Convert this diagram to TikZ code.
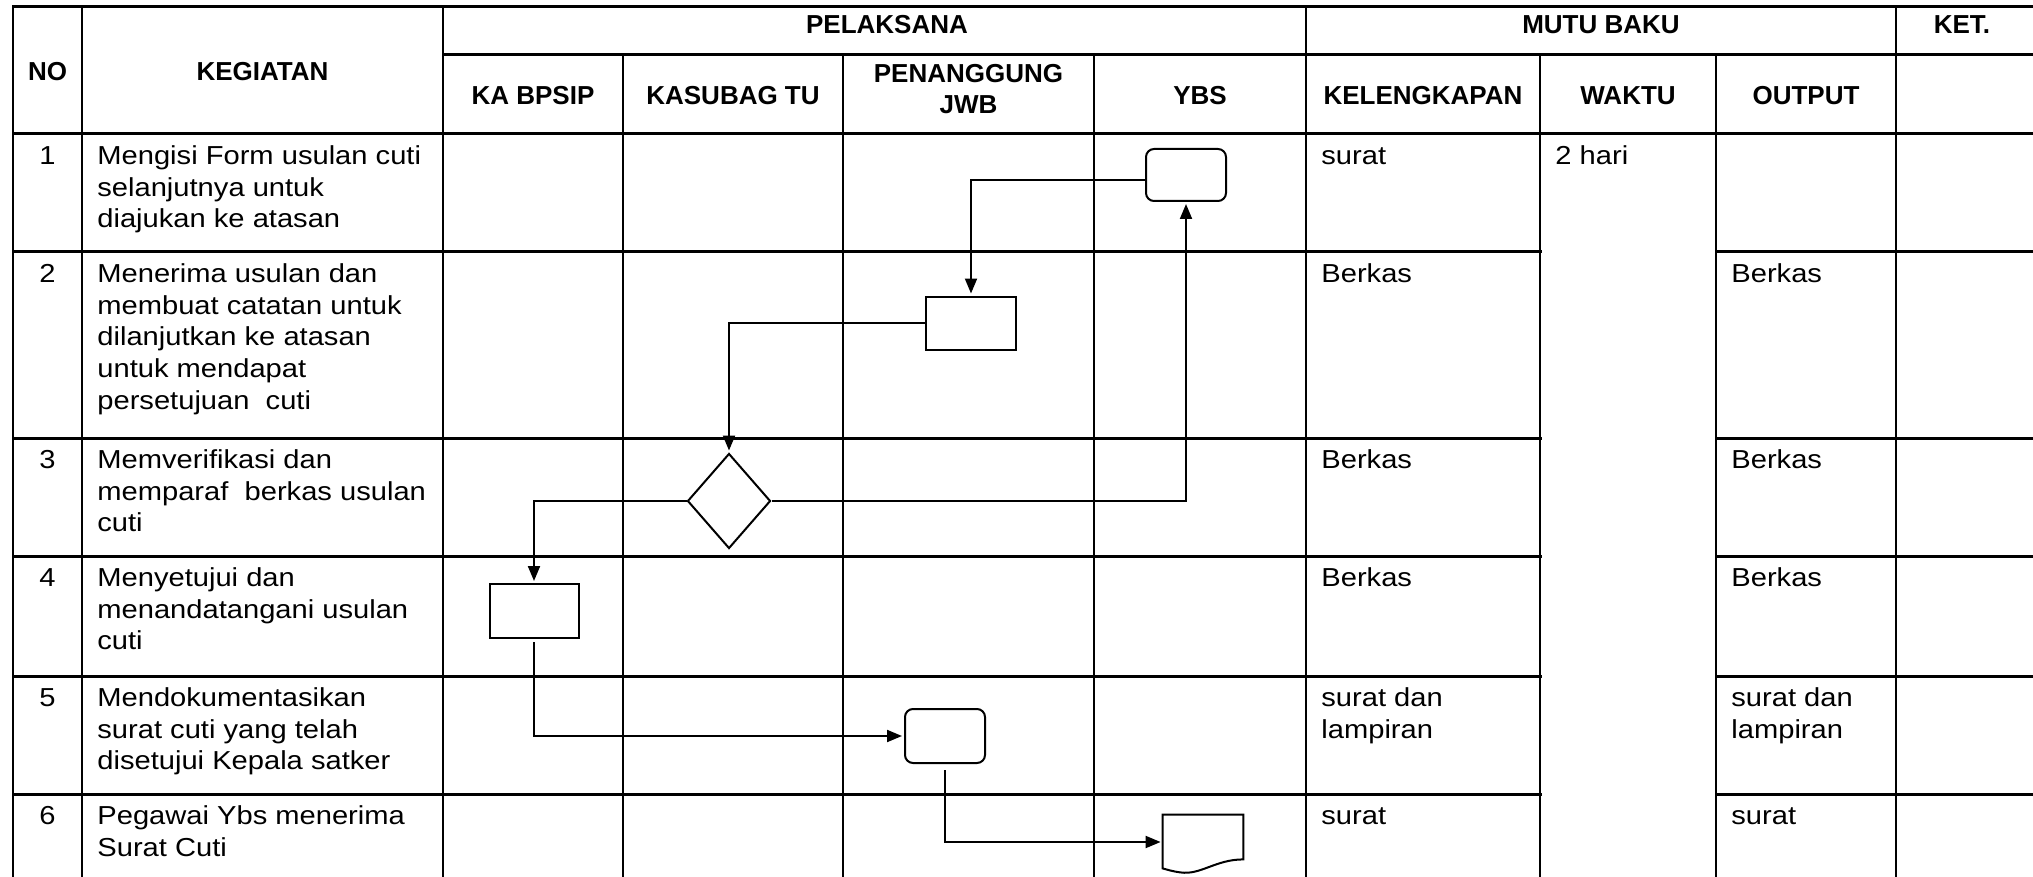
\documentclass[tikz,border=0pt]{standalone}
\usepackage{fontspec}
\setmainfont{Liberation Sans}
\newfontfamily\bodyfam[FakeStretch=1.12]{Liberation Sans}
\usetikzlibrary{shapes.geometric,arrows.meta,calc}
\newcommand\firstln{\rule{0pt}{10pt}}
\tikzset{
  hline/.style={line width=1.5pt, line cap=rect},
  vline/.style={line width=1pt, line cap=rect},
  body/.style={anchor=north west, inner sep=0pt, align=left, font=\bodyfam\fontsize{13pt}{15.85pt}\selectfont},
  num/.style={anchor=north, inner sep=0pt, align=center, font=\bodyfam\fontsize{13pt}{15.85pt}\selectfont},
  head/.style={anchor=north, inner sep=0pt, align=center, font=\fontsize{13pt}{15.5pt}\selectfont\bfseries},
  procbox/.style={draw, line width=1pt, fill=white, inner sep=0pt},
  roundbox/.style={procbox, rounded corners=4pt},
  decbox/.style={draw, line width=1pt, fill=white, diamond, inner sep=0pt},
  conn/.style={line width=1pt, -{Triangle[length=7.5pt,width=6pt]}, shorten >=1pt},
  docline/.style={line width=1pt}
}
\begin{document}
\begin{tikzpicture}[x=0.5pt, y=-0.5pt]
\useasboundingbox (0,0) rectangle (2033,877);
% ---------- table grid ----------
\draw[hline] (13,7) -- (2033,7);
\draw[hline] (443,55) -- (2033,55);
\draw[hline] (13,134) -- (2033,134);
\foreach \y in {252,438,556,676,794} {
  \draw[hline] (13,\y) -- (1540,\y);
  \draw[hline] (1716,\y) -- (2033,\y);
}
\foreach \x in {13,82,443,1306,1896} \draw[vline] (\x,7) -- (\x,880);
\foreach \x in {623,843,1094,1540,1716} \draw[vline] (\x,55) -- (\x,880);
% ---------- headers ----------
\node[head] (hno) at (47.5,60) {\firstln NO};
\node[head] (hkeg) at (262.5,60) {\firstln KEGIATAN};
\node[head] (hpel) at (887,13) {\firstln PELAKSANA};
\node[head] (hmutu) at (1601,13) {\firstln MUTU BAKU};
\node[head] (hket) at (1962,13) {\firstln KET.};
\node[head] (hka) at (533,84) {\firstln KA BPSIP};
\node[head] (hkas) at (733,84) {\firstln KASUBAG TU};
\node[head] (hpen) at (968.5,62) {\firstln PENANGGUNG\\JWB};
\node[head] (hybs) at (1200,84) {\firstln YBS};
\node[head] (hkel) at (1423,84) {\firstln KELENGKAPAN};
\node[head] (hwak) at (1628,84) {\firstln WAKTU};
\node[head] (hout) at (1806,84) {\firstln OUTPUT};
% ---------- row 1 ----------
\node[num] (n1) at (47.5,144) {\firstln 1};
\node[body] (k1) at (97,144) {\firstln Mengisi Form usulan cuti\\selanjutnya untuk\\diajukan ke atasan};
\node[body] (l1) at (1321,144) {\firstln surat};
\node[body] (w1) at (1555,144) {\firstln 2 hari};
% ---------- row 2 ----------
\node[num] (n2) at (47.5,262) {\firstln 2};
\node[body] (k2) at (97,262) {\firstln Menerima usulan dan\\membuat catatan untuk\\dilanjutkan ke atasan\\untuk mendapat\\persetujuan~ cuti};
\node[body] (l2) at (1321,262) {\firstln Berkas};
\node[body] (o2) at (1731,262) {\firstln Berkas};
% ---------- row 3 ----------
\node[num] (n3) at (47.5,448) {\firstln 3};
\node[body] (k3) at (97,448) {\firstln Memverifikasi dan\\memparaf~ berkas usulan\\cuti};
\node[body] (l3) at (1321,448) {\firstln Berkas};
\node[body] (o3) at (1731,448) {\firstln Berkas};
% ---------- row 4 ----------
\node[num] (n4) at (47.5,566) {\firstln 4};
\node[body] (k4) at (97,566) {\firstln Menyetujui dan\\menandatangani usulan\\cuti};
\node[body] (l4) at (1321,566) {\firstln Berkas};
\node[body] (o4) at (1731,566) {\firstln Berkas};
% ---------- row 5 ----------
\node[num] (n5) at (47.5,686) {\firstln 5};
\node[body] (k5) at (97,686) {\firstln Mendokumentasikan\\surat cuti yang telah\\disetujui Kepala satker};
\node[body] (l5) at (1321,686) {\firstln surat dan\\lampiran};
\node[body] (o5) at (1731,686) {\firstln surat dan\\lampiran};
% ---------- row 6 ----------
\node[num] (n6) at (47.5,804) {\firstln 6};
\node[body] (k6) at (97,804) {\firstln Pegawai Ybs menerima\\Surat Cuti};
\node[body] (l6) at (1321,804) {\firstln surat};
\node[body] (o6) at (1731,804) {\firstln surat};
% ---------- flowchart shapes ----------
\node[roundbox, minimum width=40pt, minimum height=26pt] (ybs1) at (1186,175) {};
\node[procbox, minimum width=45pt, minimum height=26.5pt] (pen2) at (971,323) {};
\node[decbox, minimum width=41.5pt, minimum height=47.5pt] (dia3) at (729,501) {};
\node[procbox, minimum width=44.5pt, minimum height=27pt] (ka4) at (534,611) {};
\node[roundbox, minimum width=40pt, minimum height=27pt] (pen5) at (945,736) {};
\node[inner sep=0pt, minimum width=40pt, minimum height=27pt] (doc) at (1203,842) {};
\draw[docline, fill=white] (doc.north west) -- (doc.north east) -- ($(doc.south east)+(0,-10)$)
  .. controls ($(doc.south east)+(-28,-10)$) and ($(doc.south east)+(-43,6)$) .. ($(doc.south east)+(-63,3)$)
  .. controls ($(doc.south east)+(-71,2)$) and ($(doc.south east)+(-77,0)$) .. ($(doc.south west)+(0,-1)$)
  -- cycle;
% ---------- connectors ----------
\draw[conn] ([yshift=-2.5pt]ybs1.west) -| (pen2.north);
\draw[conn] (pen2.west) -| (dia3.north);
\draw[conn] (dia3.east) -| (ybs1.south);
\draw[conn] (dia3.west) -| (ka4.north);
\draw[conn, shorten <=1.5pt] (ka4.south) |- (pen5.west);
\draw[conn, shorten <=3pt] (pen5.south) |- (doc.west);
\end{tikzpicture}
\end{document}
